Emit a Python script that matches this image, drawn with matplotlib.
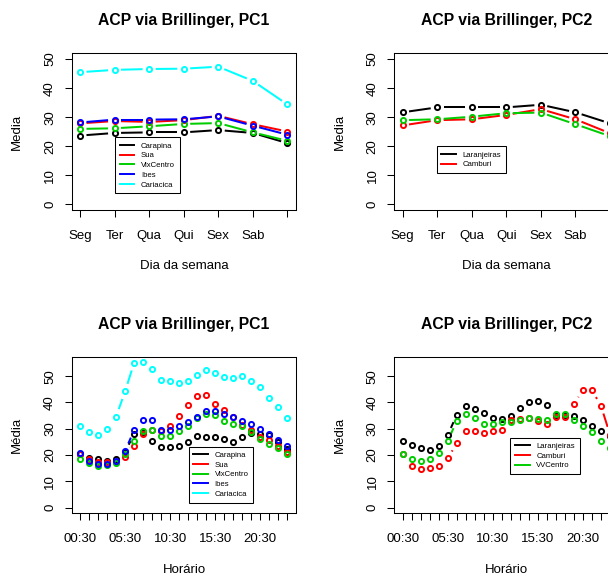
import numpy as np
import matplotlib
matplotlib.use("Agg")
import matplotlib.pyplot as plt
from matplotlib.collections import LineCollection

plt.rcParams["font.family"] = ["Liberation Sans", "DejaVu Sans"]

# ---- weekly profiles (PC1 / PC2) ----
dias = ["Seg", "Ter", "Qua", "Qui", "Sex", "Sab"]
n_dias = 7

sem_carapina = [23.7, 24.6, 24.8, 24.8, 25.6, 24.6, 21.1]
sem_sua = [27.9, 28.7, 28.4, 29.0, 30.5, 27.6, 25.1]
sem_vixcentro = [26.0, 26.2, 26.9, 27.7, 28.0, 24.8, 21.9]
sem_ibes = [28.2, 29.2, 29.2, 29.3, 30.3, 27.1, 24.0]
sem_cariacica = [45.5, 46.3, 46.6, 46.7, 47.4, 42.5, 34.4]

sem_laranjeiras = [31.7, 33.4, 33.4, 33.4, 34.3, 31.7, 27.9]
sem_camburi = [27.2, 29.0, 29.3, 30.8, 32.8, 29.3, 24.5]
sem_vvcentro = [29.0, 29.3, 30.2, 31.4, 31.6, 27.6, 23.5]

# ---- hourly profiles (PC1 / PC2) ----
horas = ["%02d:30" % h for h in range(24)]

hor_carapina = [20.2, 19.0, 18.4, 17.8, 18.4, 21.2, 28.0, 28.8, 25.4, 23.2, 23.2, 23.4,
                24.9, 27.3, 27.0, 26.7, 26.1, 24.9, 26.7, 28.4, 28.0, 27.5, 24.9, 22.4]
hor_sua = [20.2, 18.6, 17.4, 17.4, 17.3, 19.2, 23.3, 28.0, 29.5, 29.2, 31.1, 34.8,
           39.0, 42.4, 42.7, 39.6, 37.3, 34.6, 31.5, 29.6, 26.7, 25.8, 23.3, 21.1]
hor_vixcentro = [18.4, 17.1, 15.8, 16.1, 16.8, 20.3, 25.4, 29.2, 29.7, 27.3, 27.3, 29.2,
                 31.1, 34.0, 35.8, 35.1, 32.8, 31.8, 31.0, 28.7, 26.2, 24.2, 22.7, 20.4]
hor_ibes = [20.6, 17.6, 16.7, 16.6, 17.6, 21.6, 29.4, 33.4, 33.4, 29.5, 29.6, 31.0,
            32.4, 34.6, 36.8, 36.6, 35.6, 34.6, 33.0, 31.9, 30.0, 28.0, 25.7, 23.3]
hor_cariacica = [31.1, 28.9, 27.7, 30.0, 34.6, 44.2, 55.1, 55.6, 52.8, 48.6, 48.2, 47.6,
                 48.0, 50.5, 52.3, 51.1, 49.7, 49.4, 50.1, 48.2, 45.9, 41.6, 38.1, 33.9]

hor_laranjeiras = [25.3, 23.8, 22.8, 21.8, 23.3, 27.5, 35.3, 38.5, 37.7, 35.9, 34.1, 33.7,
                   34.9, 37.8, 40.3, 40.6, 39.0, 35.3, 35.1, 34.9, 33.2, 31.1, 29.1, 27.3]
hor_camburi = [20.3, 15.9, 14.6, 14.9, 15.9, 18.7, 24.4, 29.1, 29.0, 28.5, 29.1, 29.6,
               33.5, 33.8, 34.1, 33.0, 31.8, 34.4, 34.6, 39.4, 44.7, 44.7, 38.7, 27.8]
hor_vvcentro = [20.4, 18.6, 17.6, 18.4, 20.9, 25.2, 33.0, 35.8, 34.1, 31.9, 31.9, 32.4,
                32.6, 33.4, 34.1, 33.7, 33.2, 35.6, 35.8, 33.4, 30.9, 28.6, 25.3, 22.7]

cores = {"black": "#000000", "red": "#FF0000", "green": "#00CD00",
         "blue": "#0000FF", "cyan": "#00FFFF"}

W, H = 608, 578
fig = plt.figure(figsize=(W / 100, H / 100), dpi=100)


def box(x0, y0, x1, y1):
    """Axes rectangle given in pixel edges measured from the top-left corner."""
    return [x0 / W, (H - y1) / H, (x1 - x0) / W, (y1 - y0) / H]


def tipo_b(ax, x, y, cor, gap_px, lw=1.45, ms=3.7):
    """Points with broken connecting lines (gaps around each point)."""
    pts = ax.transData.transform(np.column_stack([x, y]))
    inv = ax.transData.inverted()
    segs = []
    for p0, p1 in zip(pts[:-1], pts[1:]):
        d = p1 - p0
        L = np.hypot(d[0], d[1])
        if L > 2 * gap_px:
            f = gap_px / L
            segs.append(inv.transform(np.array([p0 + f * d, p1 - f * d])))
    ax.add_collection(LineCollection(segs, colors=cor, linewidths=lw))
    ax.plot(x, y, "o", mfc="none", mec=cor, ms=ms, mew=1.4, clip_on=False, zorder=3)


def estilo(ax, xlim, ylim):
    ax.set_xlim(*xlim)
    ax.set_ylim(*ylim)
    for s in ax.spines.values():
        s.set_linewidth(0.75)
    ax.tick_params(direction="out", length=5.2, width=0.75, labelsize=9.5,
                   colors="#000000")
    ax.tick_params(axis="x", pad=9.0)
    ax.tick_params(axis="y", pad=6.0)
    ax.set_yticks([0, 10, 20, 30, 40, 50])
    ax.set_yticklabels(["0", "10", "20", "30", "40", "50"], rotation=90, va="center")


def rotulos(x_off, titulo, y_title, xlab, y_xlab, ylab, y_ylab):
    fig.text((184 + x_off) / W, 1 - y_title / H, titulo, ha="center", va="center",
             fontsize=11.3, fontweight="bold")
    fig.text((184 + x_off) / W, 1 - y_xlab / H, xlab, ha="center", va="center", fontsize=9.5)
    fig.text((17 + x_off) / W, 1 - y_ylab / H, ylab, ha="center", va="center",
             rotation=90, fontsize=9.5)


def legenda(ax, nomes, cores_leg, anchor):
    handles = [plt.Line2D([], [], color=c, lw=1.4) for c in cores_leg]
    leg = ax.legend(handles, nomes, loc="upper left", bbox_to_anchor=anchor,
                    borderaxespad=0, fontsize=5.6, frameon=True, fancybox=False,
                    edgecolor="#000000", framealpha=1, handlelength=1.9,
                    handletextpad=0.85, labelspacing=0.3, borderpad=0.6)
    leg.get_frame().set_linewidth(0.75)
    leg.set_zorder(5)


xs_sem = np.arange(1, n_dias + 1)
xs_hor = np.arange(1, len(horas) + 1)
xlim_sem = (1 - 0.04 * (n_dias - 1), n_dias + 0.04 * (n_dias - 1))
xlim_hor = (1 - 0.04 * (len(horas) - 1), len(horas) + 0.04 * (len(horas) - 1))
ylim_sem = (-2, 52)
ylim_hor = (-2.2, 57.2)

offset = 322.6

# --- top left: weekly PC1 ---
ax1 = fig.add_axes(box(71.7, 53.3, 295.7, 210.3))
estilo(ax1, xlim_sem, ylim_sem)
ax1.set_xticks(xs_sem)
ax1.set_xticklabels(dias + [""])
for serie, c in [(sem_carapina, "black"), (sem_sua, "red"), (sem_vixcentro, "green"),
                 (sem_ibes, "blue"), (sem_cariacica, "cyan")]:
    tipo_b(ax1, xs_sem, serie, cores[c], 6.5)
legenda(ax1, ["Carapina", "Sua", "VixCentro", "Ibes", "Cariacica"],
        [cores[c] for c in ["black", "red", "green", "blue", "cyan"]], (0.193, 0.464))
rotulos(0, "ACP via Brillinger, PC1", 21, "Dia da semana", 266, "Media", 131.7)

# --- top right: weekly PC2 ---
ax2 = fig.add_axes(box(71.7 + offset, 53.3, 295.7 + offset, 210.3))
estilo(ax2, xlim_sem, ylim_sem)
ax2.set_xticks(xs_sem)
ax2.set_xticklabels(dias + [""])
for serie, c in [(sem_laranjeiras, "black"), (sem_camburi, "red"), (sem_vvcentro, "green")]:
    tipo_b(ax2, xs_sem, serie, cores[c], 6.5)
legenda(ax2, ["Laranjeiras", "Camburi"], [cores["black"], cores["red"]], (0.189, 0.4065))
rotulos(offset, "ACP via Brillinger, PC2", 21, "Dia da semana", 266, "Media", 131.7)

# --- bottom left: hourly PC1 ---
ax3 = fig.add_axes(box(71.7, 357.3, 295.7, 513.3))
estilo(ax3, xlim_hor, ylim_hor)
ax3.set_xticks(xs_hor)
ax3.set_xticklabels([h if i % 5 == 0 else "" for i, h in enumerate(horas)])
for serie, c in [(hor_carapina, "black"), (hor_sua, "red"), (hor_vixcentro, "green"),
                 (hor_ibes, "blue"), (hor_cariacica, "cyan")]:
    tipo_b(ax3, xs_hor, serie, cores[c], 8.0)
legenda(ax3, ["Carapina", "Sua", "VixCentro", "Ibes", "Cariacica"],
        [cores[c] for c in ["black", "red", "green", "blue", "cyan"]], (0.522, 0.427))
rotulos(0, "ACP via Brillinger, PC1", 325, "Horário", 570, "Média", 435.3)

# --- bottom right: hourly PC2 ---
ax4 = fig.add_axes(box(71.7 + offset, 357.3, 295.7 + offset, 513.3))
estilo(ax4, xlim_hor, ylim_hor)
ax4.set_xticks(xs_hor)
ax4.set_xticklabels([h if i % 5 == 0 else "" for i, h in enumerate(horas)])
for serie, c in [(hor_laranjeiras, "black"), (hor_camburi, "red"), (hor_vvcentro, "green")]:
    tipo_b(ax4, xs_hor, serie, cores[c], 8.0)
legenda(ax4, ["Laranjeiras", "Camburi", "VVCentro"],
        [cores["black"], cores["red"], cores["green"]], (0.518, 0.485))
rotulos(offset, "ACP via Brillinger, PC2", 325, "Horário", 570, "Média", 435.3)

fig.savefig("out.png", dpi=100, facecolor="white")
